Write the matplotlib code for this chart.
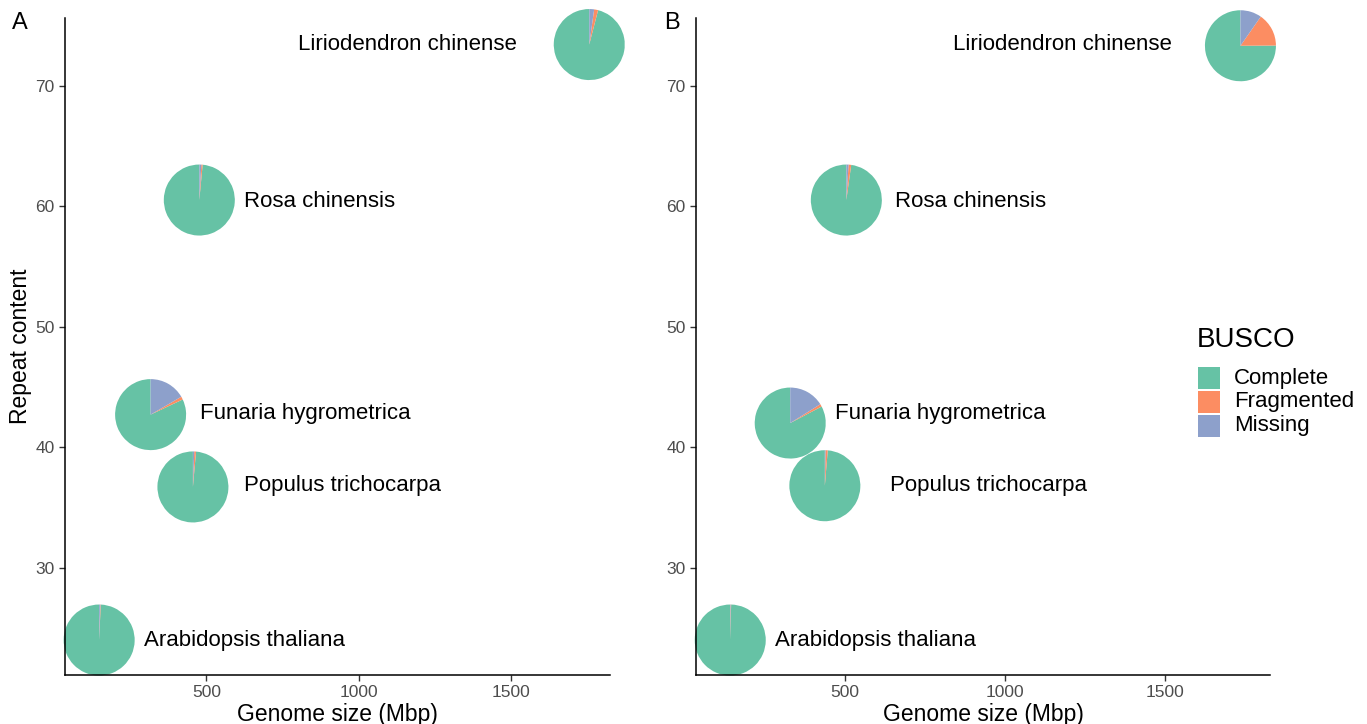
import numpy as np
import matplotlib
matplotlib.use("Agg")
import matplotlib.pyplot as plt
import matplotlib.transforms as mtransforms
from matplotlib.patches import Wedge, Rectangle

plt.rcParams['font.family'] = ['Liberation Sans', 'DejaVu Sans']

# Datos
especies = ["Liriodendron chinense", "Rosa chinensis", "Funaria hygrometrica",
            "Populus trichocarpa", "Arabidopsis thaliana"]
categorias = ["Complete", "Fragmented", "Missing"]
colores = ["#66C2A5", "#FC8D62", "#8DA0CB"]

# Panel A
genomaA = [1758, 477, 317, 456, 148]
repeticionA = [73.4, 60.5, 42.7, 36.7, 24.0]
completoA = [96.0, 98.5, 82.0, 98.6, 99.3]
fragmentadoA = [1.8, 0.6, 1.4, 0.8, 0.2]
perdidoA = [2.2, 0.9, 16.6, 0.6, 0.5]

# Panel B
genomaB = [1734, 505, 330, 438, 143]
repeticionB = [73.3, 60.5, 42.0, 36.8, 24.0]
completoB = [75.1, 97.8, 82.7, 98.7, 99.6]
fragmentadoB = [15.2, 1.2, 1.2, 1.0, 0.2]
perdidoB = [9.7, 1.0, 16.1, 0.3, 0.2]

# Posiciones de etiquetas (x, y, alineación)
etiquetasA = [(1521, 73.4, 'right'), (624, 60.4, 'left'), (480, 42.8, 'left'),
              (624, 36.8, 'left'), (294, 24.0, 'left')]
etiquetasB = [(1521, 73.4, 'right'), (656, 60.4, 'left'), (470, 42.8, 'left'),
              (640, 36.8, 'left'), (281, 24.0, 'left')]

W, H = 1367, 724
fig = plt.figure(figsize=(W / 100, H / 100), dpi=100)
axA = fig.add_axes([0.0476, 0.0677, 0.3986, 0.9074])
axB = fig.add_axes([0.5091, 0.0677, 0.4199, 0.9074])

radio = 35.5  # píxeles


def dibujarPanel(ax, genoma, repeticion, comp, frag, perd, etiquetas, letra, ylabel):
    ax.set_xlim(36, 1826)
    ax.set_ylim(21.1, 75.6)
    for i in range(len(especies)):
        valores = [comp[i], frag[i], perd[i]]
        total = sum(valores)
        t = mtransforms.Affine2D().scale(radio) + \
            mtransforms.ScaledTranslation(genoma[i], repeticion[i], ax.transData)
        inicio = 90.0
        for v, c in zip(valores, colores):
            fin = inicio + 360.0 * v / total
            w = Wedge((0, 0), 1, inicio, fin, facecolor=c, edgecolor='none',
                      transform=t, clip_on=False)
            ax.add_patch(w)
            inicio = fin
        ex, ey, ha = etiquetas[i]
        ax.text(ex, ey, especies[i], ha=ha, va='center', fontsize=16, color='black')
    for s in ['top', 'right']:
        ax.spines[s].set_visible(False)
    for s in ['left', 'bottom']:
        ax.spines[s].set_linewidth(1.1)
    ax.set_xticks([500, 1000, 1500])
    ax.set_yticks([30, 40, 50, 60, 70])
    ax.tick_params(labelsize=12.5, labelcolor='#4D4D4D', color='#333333',
                   length=4, width=1)
    ax.set_xlabel("Genome size (Mbp)", fontsize=16.5, labelpad=2)
    if ylabel:
        ax.set_ylabel("Repeat content", fontsize=16.5, labelpad=2)
    ax.text(-0.098 if ylabel else -0.055, 0.993, letra, transform=ax.transAxes,
            fontsize=17, va='center', ha='left')


dibujarPanel(axA, genomaA, repeticionA, completoA, fragmentadoA, perdidoA,
             etiquetasA, 'A', True)
dibujarPanel(axB, genomaB, repeticionB, completoB, fragmentadoB, perdidoB,
             etiquetasB, 'B', False)

# Leyenda (en píxeles de la figura)
fig.text(1197 / W, 1 - 340 / H, "BUSCO", fontsize=20, ha='left', va='center')
for k, (c, l) in enumerate(zip(colores, categorias)):
    yc = 378 + 24 * k
    fig.patches.append(Rectangle((1198 / W, 1 - (yc + 11) / H), 22 / W, 22 / H,
                                 facecolor=c, edgecolor='none',
                                 transform=fig.transFigure, figure=fig))
    fig.text(1234 / W, 1 - yc / H, l, fontsize=16, ha='left', va='center')

fig.savefig("out.png", dpi=100)
